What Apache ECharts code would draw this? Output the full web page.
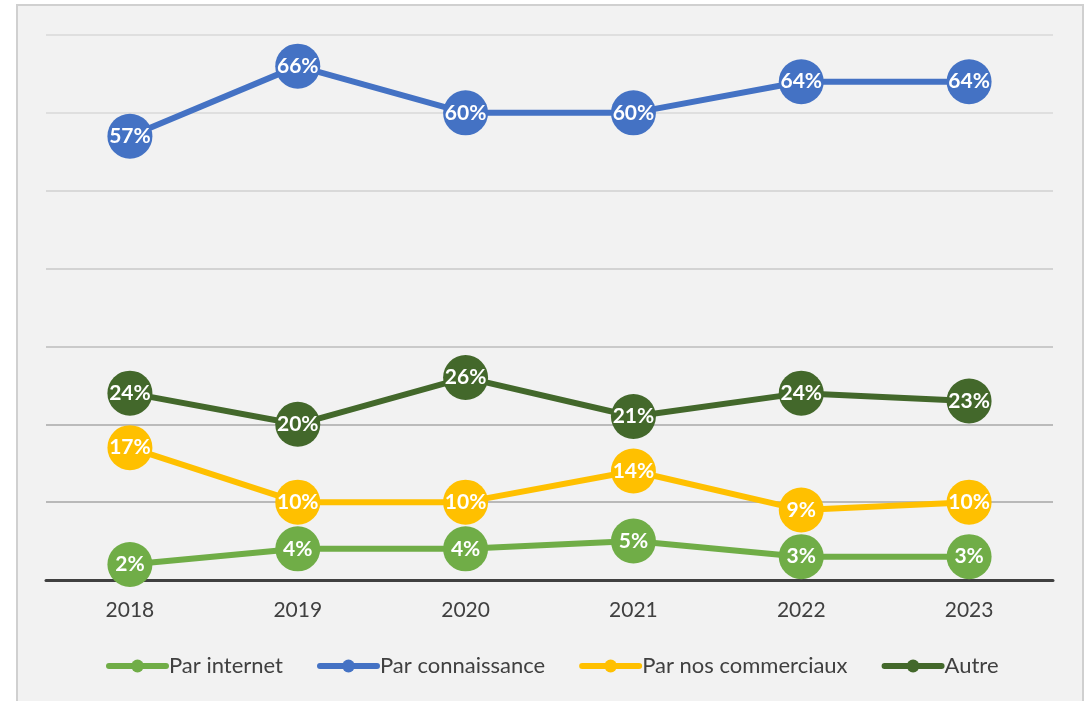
<!DOCTYPE html>
<html>
<head>
<meta charset="utf-8">
<script src="https://cdn.jsdelivr.net/npm/echarts@6/dist/echarts.min.js"></script>
<style>
  html, body { margin: 0; padding: 0; background: #ffffff; }
  #chart { width: 1089px; height: 701px; }
</style>
</head>
<body>
<div id="chart"></div>
<script>
const years = ['2018', '2019', '2020', '2021', '2022', '2023']
const parInternet = [2, 4, 4, 5, 3, 3]
const parConnaissance = [57, 66, 60, 60, 64, 64]
const parCommerciaux = [17, 10, 10, 14, 9, 10]
const autre = [24, 20, 26, 21, 24, 23]

const seriesNames = ['Par internet', 'Par connaissance', 'Par nos commerciaux', 'Autre']
const seriesColors = ['#70ad47', '#4472c4', '#ffc000', '#43682b']
const seriesData = [parInternet, parConnaissance, parCommerciaux, autre]

const font = 'Lato, "Open Sans", sans-serif'

const chart = echarts.init(document.getElementById('chart'))

const makeSeries = (name, i) => ({
  name,
  type: 'line',
  data: seriesData[i],
  symbol: 'circle',
  symbolSize: 45,
  lineStyle: { width: 6, color: seriesColors[i] },
  itemStyle: { color: seriesColors[i] },
  label: {
    show: true,
    position: 'inside',
    formatter: '{c}%',
    color: '#ffffff',
    fontFamily: font,
    fontWeight: 'bold',
    fontSize: 21,
  },
  emphasis: { disabled: true },
  animation: false,
})

chart.setOption({
  backgroundColor: '#ffffff',
  graphic: [{
    type: 'rect',
    z: -10,
    shape: { x: 17, y: 5, width: 1066, height: 710 },
    style: { fill: '#f2f2f2', stroke: '#d0d0d0', lineWidth: 2 },
  }],
  legend: {
    data: seriesNames,
    top: 650,
    left: 101,
    itemWidth: 57,
    itemHeight: 16,
    itemGap: 34,
    lineStyle: { width: 6, cap: 'round' },
    textStyle: { color: '#404040', fontFamily: font, fontSize: 22, padding: [0, 0, 0, -2] },
  },
  grid: { left: 46, right: 36, top: 35, bottom: 121 },
  xAxis: {
    type: 'category',
    data: years,
    boundaryGap: true,
    axisLine: { lineStyle: { color: '#404040', width: 3 } },
    axisTick: { show: false },
    axisLabel: { color: '#404040', fontFamily: font, fontSize: 21, margin: 20 },
  },
  yAxis: {
    type: 'value',
    min: 0,
    max: 70,
    interval: 10,
    axisLabel: { show: false },
    axisLine: { show: false },
    axisTick: { show: false },
    splitLine: {
      lineStyle: {
        width: 1.5,
        color: ['#a0a0a0', '#a6a6a6', '#a8a8a8', '#bcbcbc', '#c8c8c8', '#d0d0d0', '#d9d9d9', '#d9d9d9'],
      },
    },
  },
  series: seriesNames.map(makeSeries),
})
</script>
</body>
</html>
